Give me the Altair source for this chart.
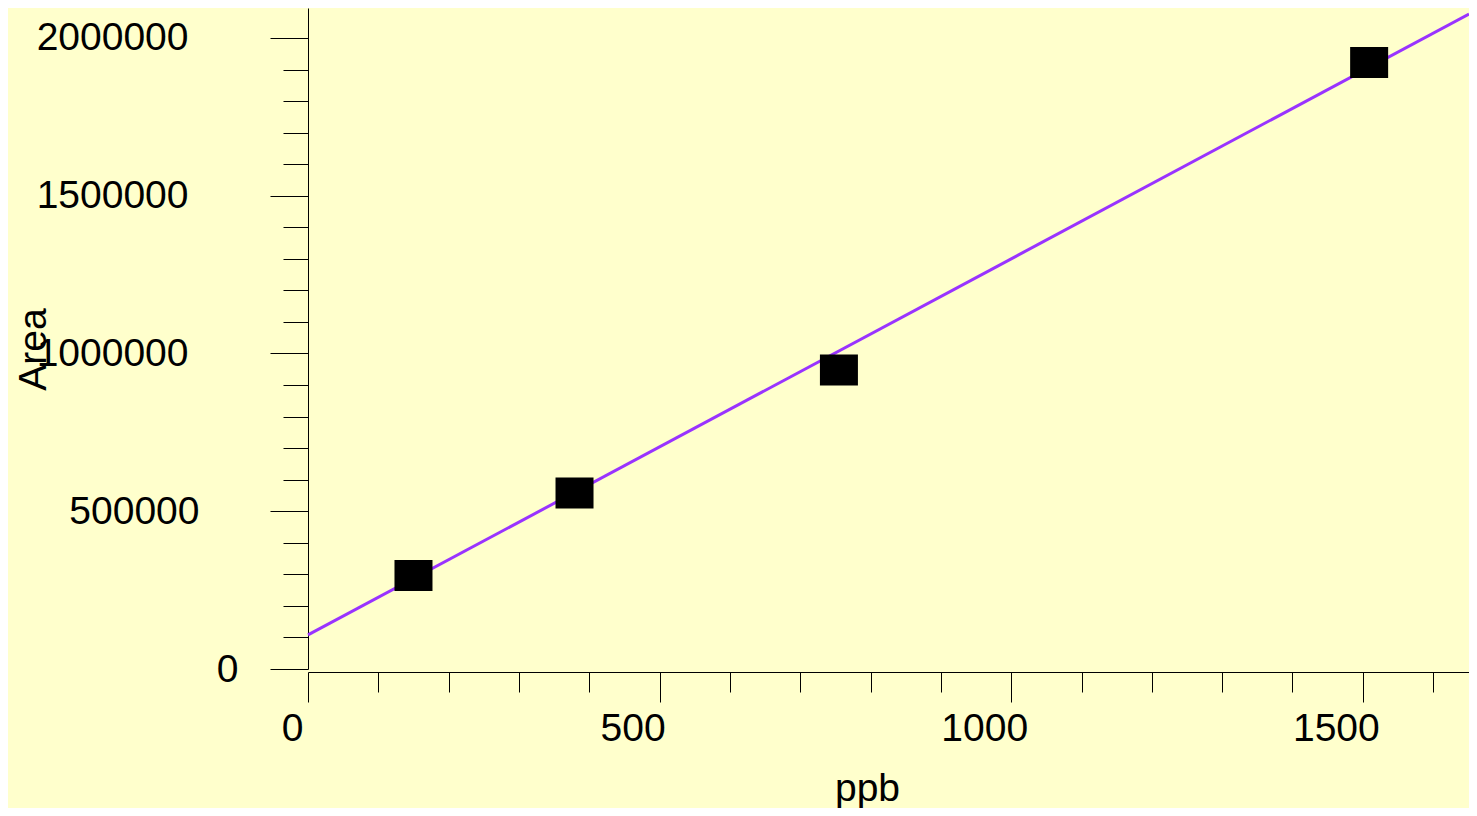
import altair as alt
import pandas as pd

# Calibration points (ppb vs Area)
ppb = [150, 379, 755, 1509]
area = [296000, 558000, 948000, 1922000]

# Fitted line endpoints
fit_ppb = [0, 1651]
fit_area = [108000, 2076000]

x_ticks = list(range(0, 1601, 100))
y_ticks = list(range(0, 2000001, 100000))

pts = pd.DataFrame({"ppb": ppb, "Area": area})
fit = pd.DataFrame({"ppb": fit_ppb, "Area": fit_area})

FONT = "Liberation Sans"

x_scale = alt.Scale(domain=[0, 1651], nice=False, zero=False)
y_scale = alt.Scale(domain=[0, 2095000], nice=False)

x_axis = alt.Axis(
    values=x_ticks,
    tickCount=60,
    format="d",
    labelExpr="datum.value % 500 === 0 ? datum.label : ''",
    grid=False,
    offset=3,
    domainColor="black",
    tickColor="black",
    tickSize={"condition": {"test": "datum.value % 500 === 0", "value": 30}, "value": 20},
    labelOffset={"condition": {"test": "datum.value === 0", "value": -16}, "value": -27},
    labelPadding=7,
    labelBaseline="top",
    labelFont=FONT,
    labelFontSize=39,
    labelColor="black",
    labelFlush=False,
    labelOverlap=False,
    title="ppb",
    titleFont=FONT,
    titleFontSize=39,
    titleFontWeight="normal",
    titleColor="black",
    titleX=559,
    titleY=128,
    titleAlign="center",
    titleBaseline="alphabetic",
)

y_axis = alt.Axis(
    values=y_ticks,
    tickCount=60,
    format="d",
    labelExpr="datum.value % 500000 === 0 ? datum.label : ''",
    grid=False,
    domainColor="black",
    tickColor="black",
    tickSize={"condition": {"test": "datum.value % 500000 === 0", "value": 38}, "value": 25},
    labelPadding={
        "condition": [
            {"test": "datum.value === 0", "value": 32},
            {"test": "datum.value === 500000", "value": 71},
        ],
        "value": 82,
    },
    labelBaseline="middle",
    labelFont=FONT,
    labelFontSize=39,
    labelColor="black",
    labelFlush=False,
    labelOverlap=False,
    title="Area",
    titleFont=FONT,
    titleFontSize=39,
    titleFontWeight="normal",
    titleColor="black",
    titleX=-263,
    titleY=341,
    titleAngle=270,
    titleAlign="center",
    titleBaseline="alphabetic",
)

line = alt.Chart(fit).mark_line(color="#9933FF", strokeWidth=3).encode(
    x=alt.X("ppb:Q", scale=x_scale, axis=x_axis),
    y=alt.Y("Area:Q", scale=y_scale, axis=y_axis),
)

points = alt.Chart(pts).mark_point(
    shape="M-1,-0.816L1,-0.816L1,0.816L-1,0.816Z",
    filled=True,
    color="black",
    opacity=1,
    size=1444,
    strokeWidth=0,
).encode(
    x=alt.X("ppb:Q", scale=x_scale),
    y=alt.Y("Area:Q", scale=y_scale),
)

chart = (
    alt.layer(line, points)
    .properties(
        width=1161,
        height=661,
        background="#FFFFCC",
        padding={"left": 300, "top": 0, "right": 0, "bottom": 139},
        autosize=alt.AutoSizeParams(type="none"),
    )
    .configure_view(strokeWidth=0)
)

chart.save("out.html", embed_options={"renderer": "svg", "actions": False})
